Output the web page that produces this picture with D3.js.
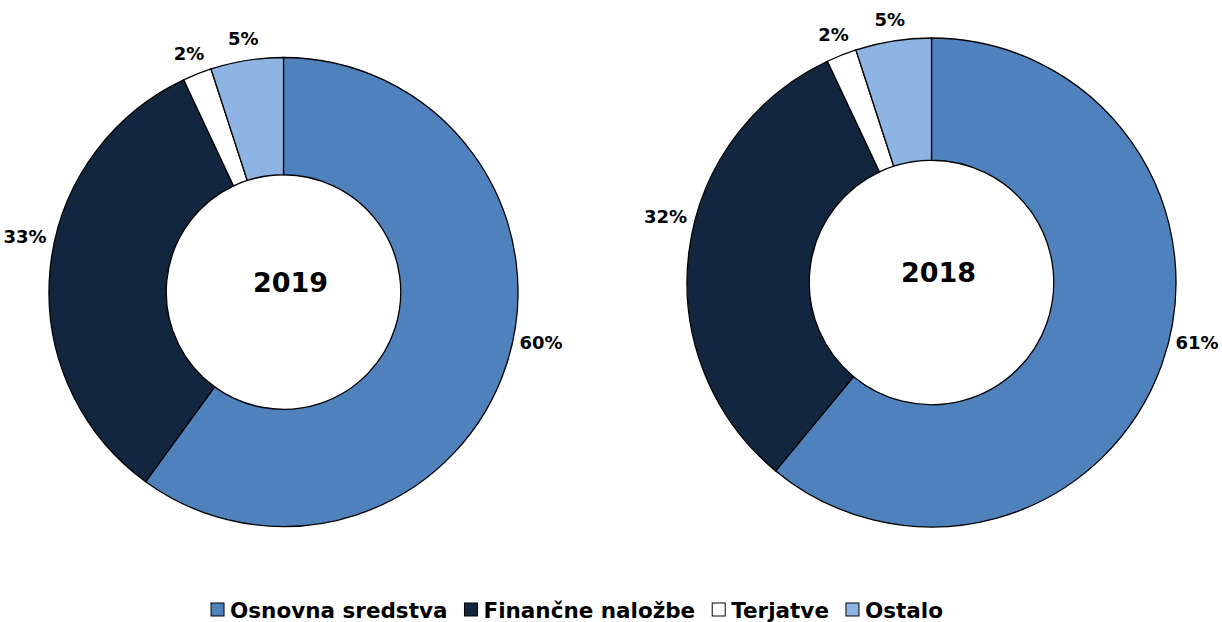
<!DOCTYPE html>
<html>
<head>
<meta charset="utf-8">
<script src="https://cdn.jsdelivr.net/npm/d3@7"></script>
<style>
  body { margin: 0; background: #fff; }
  text { font-family: "DejaVu Sans", sans-serif; font-weight: bold; fill: #000; }
</style>
</head>
<body>
<div id="chart"></div>
<script>
// categories and values
const categories = ["Osnovna sredstva", "Finančne naložbe", "Terjatve", "Ostalo"];
const colors = ["#4f81bd", "#12263f", "#ffffff", "#8eb4e3"];
const years = ["2019", "2018"];
const values2019 = [60, 33, 2, 5];
const values2018 = [61, 32, 2, 5];

const W = 1222, H = 622;
const svg = d3.select("#chart").append("svg")
  .attr("width", W).attr("height", H);

// one doughnut per year, placed like in the picture
const rings = [
  { year: years[0], values: values2019, cx: 283.5, cy: 292, r: 234.5 },
  { year: years[1], values: values2018, cx: 931.5, cy: 282.5, r: 244.5 }
];

const pie = d3.pie().sort(null).value(d => d);

rings.forEach(ring => {
  const g = svg.append("g")
    .attr("transform", "translate(" + ring.cx + "," + ring.cy + ")");

  const arc = d3.arc().innerRadius(ring.r * 0.5).outerRadius(ring.r);
  const arcs = pie(ring.values);

  g.selectAll("path")
    .data(arcs)
    .enter().append("path")
    .attr("d", arc)
    .attr("fill", (d, i) => colors[i])
    .attr("stroke", "#000")
    .attr("stroke-width", 1.3);

  // percent labels outside the ring.
  // small slices: centred on the radius. big slices: lifted a bit and kept a few px off the ring edge
  g.selectAll("text.lbl")
    .data(arcs)
    .enter().append("text")
    .attr("class", "lbl")
    .attr("dominant-baseline", "central")
    .style("font-size", "18px")
    .each(function(d) {
      const a = (d.startAngle + d.endAngle) / 2;
      const t = d3.select(this);
      if (d.value < 10) {
        const dist = ring.r + 22;
        t.attr("text-anchor", "middle")
          .attr("x", Math.sin(a) * dist)
          .attr("y", -Math.cos(a) * dist);
      } else {
        const y = -Math.cos(a) * (ring.r + 27) - ring.r * 0.13;
        const edge = Math.sqrt(ring.r * ring.r - y * y);
        const right = Math.sin(a) > 0;
        t.attr("text-anchor", right ? "start" : "end")
          .attr("x", right ? edge + 7 : -edge - 9)
          .attr("y", y);
      }
    })
    .text(d => d.value + "%");

  g.append("text")
    .attr("x", 7)
    .attr("y", -10)
    .attr("text-anchor", "middle")
    .attr("dominant-baseline", "central")
    .style("font-size", "27px")
    .text(ring.year);
});

// legend, centred under both charts
const legend = svg.append("g").attr("transform", "translate(0,610)");
let xpos = 0;
categories.forEach((c, i) => {
  const item = legend.append("g").attr("transform", "translate(" + xpos + ",0)");
  item.append("rect")
    .attr("x", 0).attr("y", -7)
    .attr("width", 13).attr("height", 13)
    .attr("fill", colors[i])
    .attr("stroke", "#000")
    .attr("stroke-width", 1);
  const t = item.append("text")
    .attr("x", 19)
    .attr("dominant-baseline", "central")
    .style("font-size", "21.5px")
    .text(c);
  xpos += 19 + t.node().getComputedTextLength() + 17;
});
const total = xpos - 17;
legend.attr("transform", "translate(" + (577 - total / 2) + ",610)");
</script>
</body>
</html>
